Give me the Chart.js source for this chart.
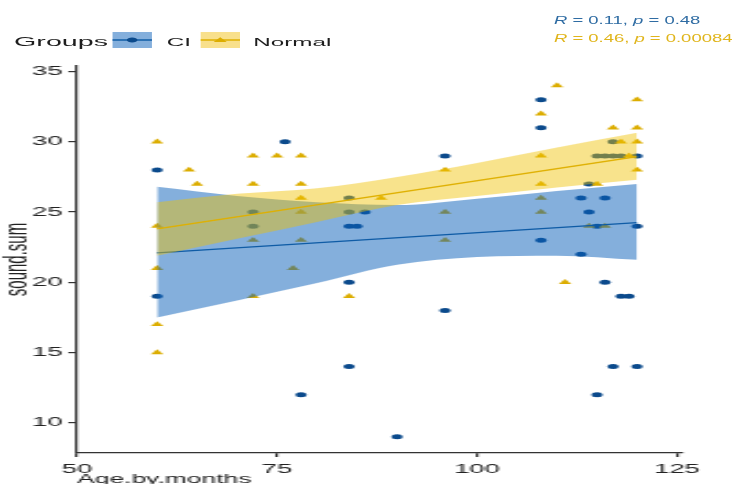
<!DOCTYPE html>
<html>
<head>
<meta charset="utf-8">
<script src="https://cdn.jsdelivr.net/npm/chart.js@4.4.1/dist/chart.umd.min.js"></script>
<style>
  html, body { margin: 0; padding: 0; background: #fff; overflow: hidden; }
  /* the reference picture is stretched sideways, so the whole stage is too */
  #stage { position: relative; width: 336px; height: 500px; transform: scaleX(2.2024); transform-origin: 0 0;
           font-family: "Liberation Sans", Arial, sans-serif; color: #1e1e1e; }
  #plot { position: absolute; left: 0; top: 0; }
  .txt { position: absolute; white-space: nowrap; line-height: 1; }
  .key { position: absolute; top: 32px; width: 18px; height: 16px; }
  .stat { font-size: 8.4px; transform: scaleY(1.3); transform-origin: 0 0; left: 251.5px; }
</style>
</head>
<body>
<div id="stage">
  <canvas id="plot" width="336" height="500"></canvas>

  <div class="txt" style="left:6.4px; top:35px; font-size:13px;">Groups</div>
  <svg class="key" style="left:51.4px" viewBox="0 0 18 16">
    <rect x="0" y="0" width="18" height="16" fill="rgb(132,175,220)"/>
    <line x1="0" y1="8" x2="18" y2="8" stroke="#0f5ca6" stroke-width="1.3"/>
    <ellipse cx="9" cy="8" rx="2.4" ry="2.6" fill="#0b4a8c"/>
  </svg>
  <div class="txt" style="left:75.7px; top:37px; font-size:11px;">CI</div>
  <svg class="key" style="left:90.9px" viewBox="0 0 18 16">
    <rect x="0" y="0" width="18" height="16" fill="rgb(248,224,140)"/>
    <line x1="0" y1="8" x2="18" y2="8" stroke="#dfb000" stroke-width="1.3"/>
    <polygon points="9,5.2 12,10 6,10" fill="#dcad00"/>
  </svg>
  <div class="txt" style="left:115px; top:37px; font-size:11px;">Normal</div>

  <div class="txt stat" style="top:14.5px; color:#2f6ca3;"><i>R</i> = 0.11, <i>p</i> = 0.48</div>
  <div class="txt stat" style="top:32.5px; color:#e0b51c;"><i>R</i> = 0.46, <i>p</i> = 0.00084</div>
</div>

<script>
// CI group points
const ciAge   = [60, 60, 76, 72, 72, 78, 84, 84, 86, 84, 85, 84, 84, 90, 96, 96,
                 108, 108, 108, 113, 116, 114, 114, 115, 120, 113, 117, 115, 116, 117, 118, 120,
                 116, 118, 119, 117, 120, 115];
const ciSound = [28, 19, 30, 25, 24, 12, 26, 25, 25, 24, 24, 20, 14, 9, 29, 18,
                 33, 31, 23, 26, 26, 27, 25, 24, 24, 22, 30, 29, 29, 29, 29, 29,
                 20, 19, 19, 14, 14, 12];

// Normal group points
const normalAge   = [60, 60, 60, 60, 60, 64, 65, 72, 75, 78, 72, 78, 78, 78, 72, 78, 72, 77, 84, 88,
                     96, 96, 96, 110, 108, 108, 108, 108, 108, 111, 117, 120, 120, 118, 120, 119, 120,
                     115, 114, 116];
const normalSound = [30, 24, 21, 17, 15, 28, 27, 29, 29, 29, 27, 27, 26, 25, 23, 23, 19, 21, 19, 26,
                     28, 25, 23, 34, 32, 29, 27, 26, 25, 20, 31, 33, 31, 30, 30, 29, 28,
                     27, 24, 24];

// fitted lines and their confidence bands
const fitAge = [60, 120];
const ciFit = [22.1, 24.25];
const normalFit = [23.8, 28.95];
const bandAge = [60, 70, 80, 90, 100, 110, 120];
const ciUpper = [26.8, 26.15, 25.7, 25.5, 25.95, 26.5, 27.0];
const ciLower = [17.5, 18.7, 19.95, 21.25, 21.8, 21.9, 21.6];
const normalUpper = [25.7, 26.3, 26.7, 27.5, 28.5, 29.6, 30.65];
const normalLower = [21.9, 23.1, 24.3, 25.5, 26.15, 26.75, 27.3];

const xTicks = [50, 75, 100, 125];
const yTicks = [10, 15, 20, 25, 30, 35];

const axisColor = '#333333';
const textColor = '#222222';

function pts(xs, ys) {
  return xs.map((x, i) => ({ x: x, y: ys[i] }));
}

function band(ys, order, fill, color) {
  return {
    data: pts(bandAge, ys), showLine: true, pointRadius: 0, borderWidth: 0,
    cubicInterpolationMode: 'monotone', fill: fill, backgroundColor: color, order: order
  };
}

Chart.defaults.font.family = "'Liberation Sans', Arial, sans-serif";

new Chart(document.getElementById('plot'), {
  type: 'scatter',
  data: {
    datasets: [
      // 0,1: CI band
      band(ciUpper, 3, '+1', 'rgba(10,95,185,0.5)'),
      band(ciLower, 3, false, 'rgba(0,0,0,0)'),
      // 2,3: Normal band
      band(normalUpper, 1, '+1', 'rgba(239,192,0,0.45)'),
      band(normalLower, 1, false, 'rgba(0,0,0,0)'),
      {
        data: pts(fitAge, ciFit), showLine: true, pointRadius: 0,
        borderColor: '#0f5ca6', borderWidth: 1.4, order: 2
      },
      {
        data: pts(fitAge, normalFit), showLine: true, pointRadius: 0,
        borderColor: '#dfb000', borderWidth: 1.4, order: 0
      },
      {
        label: 'CI', data: pts(ciAge, ciSound), pointStyle: 'circle', pointRadius: 2.5,
        backgroundColor: '#0b4a8c', borderWidth: 0, order: 5
      },
      {
        label: 'Normal', data: pts(normalAge, normalSound), pointStyle: 'triangle', pointRadius: 3.3,
        backgroundColor: '#dcad00', borderWidth: 0, order: 4
      }
    ]
  },
  options: {
    responsive: false,
    animation: false,
    devicePixelRatio: 1,
    layout: { padding: { top: 66, right: 26.8, bottom: 0, left: 0 } },
    plugins: { legend: { display: false }, tooltip: { enabled: false } },
    scales: {
      x: {
        type: 'linear', min: 50, max: 125.5,
        afterBuildTicks: s => { s.ticks = xTicks.map(v => ({ value: v })); },
        afterFit: s => { s.height = 47; },
        grid: { drawOnChartArea: false, tickLength: 4, color: axisColor, lineWidth: 1.2 },
        border: { display: true, color: axisColor, width: 1.2 },
        ticks: { color: textColor, font: { size: 12.5 }, padding: 5, maxRotation: 0 },
        title: {
          display: true, text: 'Age.by.months', align: 'start', color: textColor,
          font: { size: 12 }, padding: { top: 0, bottom: 13.5 }
        }
      },
      y: {
        type: 'linear', min: 7.85, max: 35.4,
        afterBuildTicks: s => { s.ticks = yTicks.map(v => ({ value: v })); },
        afterFit: s => { s.width = 35; },
        grid: { drawOnChartArea: false, tickLength: 4, color: axisColor, lineWidth: 1.2 },
        border: { display: true, color: axisColor, width: 1.2 },
        ticks: { color: textColor, font: { size: 12.5 }, padding: 2.5 },
        title: {
          display: true, text: 'sound.sum', color: textColor,
          font: { size: 15, lineHeight: 1 }, padding: { top: 0, bottom: 0 }
        }
      }
    }
  }
});
</script>
</body>
</html>
